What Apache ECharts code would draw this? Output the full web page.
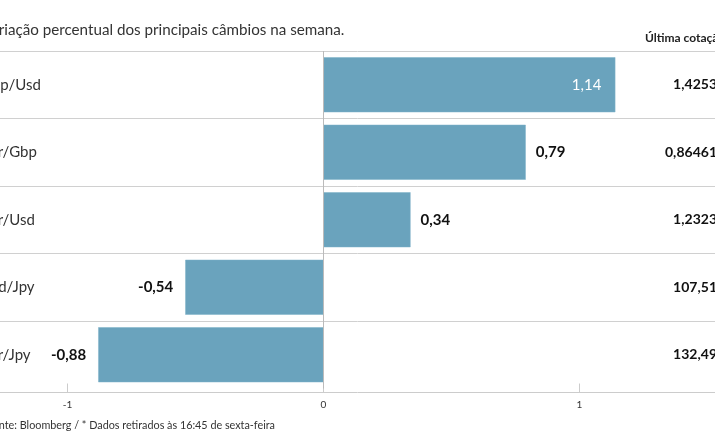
<!DOCTYPE html>
<html>
<head>
<meta charset="utf-8">
<script src="https://cdn.jsdelivr.net/npm/echarts@6/dist/echarts.min.js"></script>
<style>
html,body{margin:0;padding:0;background:#fff;}
#c{width:715px;height:445px;}
</style>
</head>
<body>
<div id="c"></div>
<script>
const categories = ['Gbp/Usd', 'Eur/Gbp', 'Eur/Usd', 'Usd/Jpy', 'Eur/Jpy'];
const variation = [1.14, 0.79, 0.34, -0.54, -0.88];
const lastQuote = ['1,4253', '0,86461', '1,2323', '107,51', '132,49'];
const titleText = 'Variação percentual dos principais câmbios na semana.';
const sourceText = 'Fonte: Bloomberg / * Dados retirados às 16:45 de sexta-feira';
const quoteHeader = 'Última cotação';

const FONT = 'Lato, "Open Sans", sans-serif';
const fmt = v => v.toFixed(2).replace('.', ',');

const chart = echarts.init(document.getElementById('c'), null, {renderer: 'canvas'});

const barData = variation.map((v, i) => {
  const item = {value: v};
  if (i === 0) {
    item.label = {position: 'insideRight', distance: 14, color: '#ffffff', fontWeight: 'normal'};
  } else if (v < 0) {
    item.label = {position: 'left', distance: 12};
  } else {
    item.label = {position: 'right', distance: 10};
  }
  return item;
});

chart.setOption({
  animation: false,
  backgroundColor: '#ffffff',
  textStyle: {fontFamily: FONT},
  title: [
    {text: titleText, left: -23, top: 18,
     textStyle: {fontFamily: FONT, fontSize: 15.2, fontWeight: 'normal', color: '#333'}},
    {text: sourceText, left: -18, top: 415,
     textStyle: {fontFamily: FONT, fontSize: 10.8, fontWeight: 'normal', color: '#333'}}
  ],
  graphic: [
    {type: 'text', left: 645, top: 32,
     style: {text: quoteHeader, font: 'bold 12px ' + FONT, fill: '#222'}}
  ],
  grid: {left: -188.5, right: -120.5, top: 51, height: 337.5, outerBoundsMode: 'none'},
  xAxis: {
    type: 'value', min: -2, max: 2, interval: 1, offset: 4,
    axisLine: {show: true, lineStyle: {color: '#cccccc', width: 1}},
    axisTick: {show: true, inside: true, length: 9, lineStyle: {color: '#cccccc'}},
    splitLine: {show: false},
    axisLabel: {margin: 7, fontSize: 10, color: '#333', fontFamily: FONT,
                formatter: v => String(v)}
  },
  yAxis: [
    {
      type: 'category', inverse: true, data: categories,
      axisLine: {show: false}, axisTick: {show: false},
      splitLine: {show: true, showMaxLine: false, lineStyle: {color: '#d0d0d0', width: 1}},
      axisLabel: {align: 'left', margin: -169.5, fontSize: 15, color: '#333', fontFamily: FONT}
    },
    {
      type: 'category', inverse: true, position: 'right', data: categories,
      axisLine: {show: false}, axisTick: {show: false}, splitLine: {show: false},
      axisLabel: {align: 'right', margin: -118.5, fontSize: 14, fontWeight: 'bold',
                  color: '#111', fontFamily: FONT,
                  formatter: (v, i) => lastQuote[i]}
    }
  ],
  series: [{
    type: 'bar', yAxisIndex: 0, data: barData, barWidth: 55,
    itemStyle: {color: '#6aa3bd', borderColor: '#7fb2c8', borderWidth: 0.5},
    label: {show: true, fontSize: 15, fontWeight: 'bold', color: '#111', fontFamily: FONT,
            formatter: p => fmt(p.value)},
    markLine: {
      silent: true, symbol: 'none', label: {show: false},
      lineStyle: {color: '#bbbbbb', type: 'solid', width: 1},
      data: [{xAxis: 0}]
    }
  }]
});
</script>
</body>
</html>
